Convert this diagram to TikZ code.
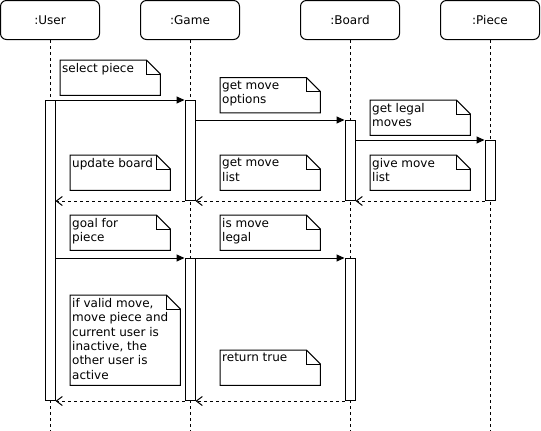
\documentclass[tikz,border=0pt]{standalone}
\usepackage{fontspec}
\setmainfont{DejaVu Sans}
\usetikzlibrary{
    arrows.meta,
    positioning
}

\tikzset{
    lifebox/.style={draw, rounded corners=6pt, minimum width=99pt, minimum height=39pt,
        line width=1pt, font=\fontsize{12}{14.4}\selectfont},
    lifeline/.style={line width=0.8pt, dash pattern=on 3pt off 3pt},
    bar/.style={draw, fill=white, line width=1pt, minimum width=10pt, inner sep=0pt, anchor=north},
    msg/.style={line width=1pt, -{Triangle[length=8pt, width=7pt]}},
    ret/.style={line width=1pt, dash pattern=on 3pt off 3pt, -{Straight Barb[length=6pt, width=9pt]}},
    notearea/.style={inner sep=0pt, anchor=north west},
    notetext/.style={inner sep=0pt, anchor=north west, align=left, font=\fontsize{12}{14.4}\selectfont}
}

% name, corner, width, height, text
\newcommand{\notebox}[5]{
    \node[notearea, minimum width=#3, minimum height=#4] (#1) at #2 {};
    \draw[line width=1pt, fill=white] (#1.north west) -- ([xshift=-14pt]#1.north east)
        -- ([yshift=-14pt]#1.north east) -- (#1.south east) -- (#1.south west) -- cycle;
    \draw[line width=1pt] ([xshift=-14pt]#1.north east) -- ++(0,-14pt) -- ([yshift=-14pt]#1.north east);
    \node[notetext] at ([shift={(2pt,-3pt)}]#1.north west) {#5};
}

\begin{document}
\begin{tikzpicture}[x=1pt, y=-1pt]
    \useasboundingbox (0,0) rectangle (541,431);
    \coordinate (bottom) at (0,431);

    % lifelines
    \node[lifebox] (user)  at (50,20)  {:User};
    \node[lifebox] (game)  at (190,20) {:Game};
    \node[lifebox] (board) at (350,20) {:Board};
    \node[lifebox] (piece) at (490,20) {:Piece};
    \foreach \obj in {user, game, board, piece}
        \draw[lifeline] (\obj.south) -- (\obj.south |- bottom);

    % activations
    \node[bar, minimum height=300pt] (ubar)   at (50,100)  {};
    \node[bar, minimum height=100pt] (gbar1)  at (190,100) {};
    \node[bar, minimum height=80pt]  (bbar1)  at (350,120) {};
    \node[bar, minimum height=60pt]  (pbar)   at (490,140) {};
    \node[bar, minimum height=142pt] (gbar2)  at (190,258) {};
    \node[bar, minimum height=142pt] (bbar2)  at (350,258) {};

    % messages
    \draw[msg] (ubar.east |- gbar1.north) -- (gbar1.north west);
    \draw[msg] (gbar1.east |- bbar1.north) -- (bbar1.north west);
    \draw[msg] (bbar1.east |- pbar.north) -- (pbar.north west);
    \draw[ret] (pbar.south west) -- (bbar1.south east);
    \draw[ret] (bbar1.south west) -- (gbar1.south east);
    \draw[ret] (gbar1.south west) -- (ubar.east |- gbar1.south);
    \draw[msg] (ubar.east |- gbar2.north) -- (gbar2.north west);
    \draw[msg] (gbar2.north east) -- (bbar2.north west);
    \draw[ret] (bbar2.south west) -- (gbar2.south east);
    \draw[ret] (gbar2.south west) -- (ubar.south east);

    % notes
    \notebox{selnote}{(60,60)}{100pt}{35pt}{select piece}
    \notebox{optnote}{(220,77.5)}{100pt}{35pt}{get move\\options}
    \notebox{legalnote}{(370,100)}{100pt}{35pt}{get legal\\moves}
    \notebox{updnote}{(70,155)}{100pt}{35pt}{update board}
    \notebox{listnote}{(220,155)}{100pt}{35pt}{get move\\list}
    \notebox{givenote}{(370,155)}{100pt}{35pt}{give move\\list}
    \notebox{goalnote}{(70,215)}{100pt}{35pt}{goal for\\piece}
    \notebox{isnote}{(220,215)}{100pt}{35pt}{is move\\legal}
    \notebox{validnote}{(70,295)}{110pt}{90pt}{if valid move,\\move piece and\\current user is\\inactive, the\\other user is\\active}
    \notebox{truenote}{(220,350)}{100pt}{35pt}{return true}
\end{tikzpicture}
\end{document}
